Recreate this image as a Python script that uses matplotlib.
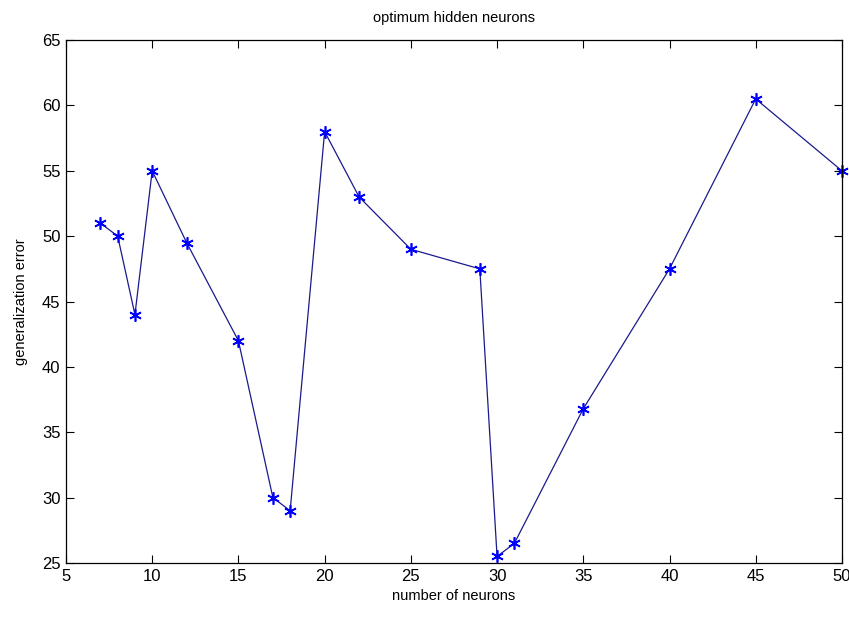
import matplotlib
matplotlib.use("Agg")
import matplotlib.pyplot as plt

neurons = [7, 8, 9, 10, 12, 15, 17, 18, 20, 22, 25, 29, 30, 31, 35, 40, 45, 50]
gen_error = [51, 50, 44, 55, 49.5, 42, 30, 29, 58, 53, 49, 47.5, 25.5, 26.5, 36.8, 47.5, 60.5, 55]

plt.rcParams.update({"font.family": ["Liberation Sans", "DejaVu Sans"], "font.size": 10})

fig = plt.figure(figsize=(8.49, 6.17), dpi=100)
ax = fig.add_axes([0.0777, 0.0875, 0.9140, 0.8475])
ax.plot(neurons, gen_error, "-", color="#1a1a8c", lw=0.9)
ax.plot(neurons, gen_error, ls="none", marker=(6, 2, 0), color="#0000ff", ms=9, mew=1.2, clip_on=False)
ax.set_xlim(5, 50); ax.set_ylim(25, 65)
ax.set_xticks(range(5, 51, 5)); ax.set_yticks(range(25, 66, 5))
ax.tick_params(direction="in", top=True, right=True, length=6, labelsize=12, pad=4)
for s in ax.spines.values():
    s.set_linewidth(0.9)
ax.set_xlabel("number of neurons", fontsize=10.5, labelpad=4)
ax.set_ylabel("generalization error", fontsize=10.5, labelpad=10)
ax.set_title("optimum hidden neurons", fontsize=10.5, pad=13)

fig.savefig("out.png", dpi=100)
